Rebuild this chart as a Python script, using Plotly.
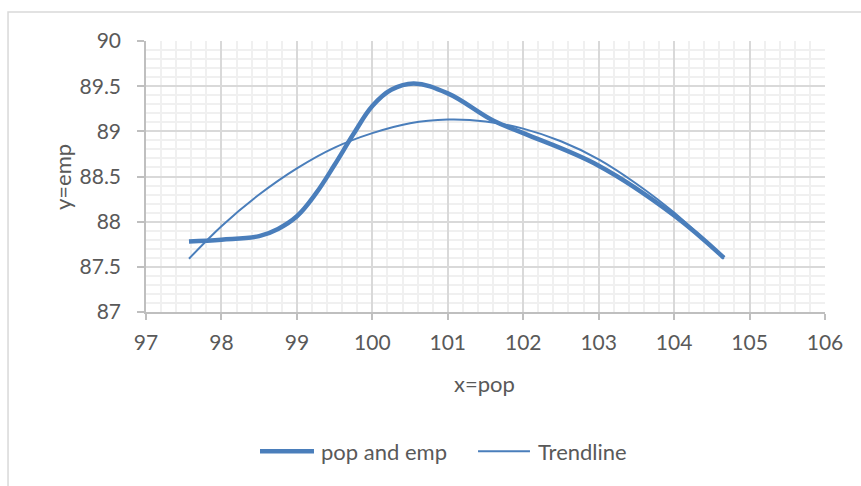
import plotly.graph_objects as go

# main series (pop vs emp)
pop = [97.57, 98.0, 98.5, 98.75, 99.0, 99.25, 99.5, 99.75, 100.0, 100.25, 100.55, 101.0, 101.6, 102.0, 103.0, 104.0, 104.66]
emp = [87.78, 87.80, 87.84, 87.92, 88.06, 88.31, 88.63, 88.97, 89.28, 89.46, 89.53, 89.42, 89.12, 88.98, 88.62, 88.07, 87.60]

# trendline
trend_x = [97.57, 98.0, 98.5, 99.0, 99.5, 100.0, 100.5, 101.0, 101.5, 102.0, 102.5, 103.0, 103.5, 104.0, 104.66]
trend_y = [87.59, 87.95, 88.30, 88.59, 88.82, 88.98, 89.09, 89.13, 89.11, 89.03, 88.89, 88.69, 88.42, 88.10, 87.59]

x_ticks = [97, 98, 99, 100, 101, 102, 103, 104, 105, 106]
y_ticks = [87, 87.5, 88, 88.5, 89, 89.5, 90]
series_names = ["pop and emp", "Trendline"]

BLUE = "#4a7ebb"
TXT = "#595959"
FONT = "Lato"
WIDTHS = [4.5, 2]

fig = go.Figure()
fig.add_trace(go.Scatter(x=pop, y=emp, mode="lines", name=series_names[0], showlegend=False,
                         line=dict(color=BLUE, width=WIDTHS[0], shape="spline", smoothing=1.1)))
fig.add_trace(go.Scatter(x=trend_x, y=trend_y, mode="lines", name=series_names[1], showlegend=False,
                         line=dict(color=BLUE, width=WIDTHS[1], shape="spline", smoothing=1.0)))

# legend drawn manually (Excel-style wide samples), in paper coordinates
LEG_Y = -0.514
leg_items = [(0.1679, 0.2474, 0.2548), (0.4890, 0.5655, 0.5744)]
shapes = [
    dict(type="rect", xref="paper", yref="paper", x0=-0.2032, x1=1.3, y0=-1.2, y1=1.107,
         line=dict(color="#d9d9d9", width=1.5), fillcolor="rgba(0,0,0,0)", layer="below"),
]
annotations = [
    dict(text="y=emp", xref="paper", yref="paper", x=-0.1237, y=0.498, textangle=-90,
         showarrow=False, xanchor="center", yanchor="middle", font=dict(size=22, color=TXT)),
    dict(text="x=pop", xref="paper", yref="paper", x=0.499, y=-0.262,
         showarrow=False, xanchor="center", yanchor="middle", font=dict(size=22, color=TXT)),
]
for (x0, x1, xt), name, w in zip(leg_items, series_names, WIDTHS):
    shapes.append(dict(type="line", xref="paper", yref="paper", x0=x0, x1=x1, y0=LEG_Y, y1=LEG_Y,
                       line=dict(color=BLUE, width=w)))
    annotations.append(dict(text=name, xref="paper", yref="paper", x=xt, y=LEG_Y, showarrow=False,
                            xanchor="left", yanchor="middle", font=dict(size=22, color=TXT)))

fig.update_layout(
    width=861, height=486,
    margin=dict(l=146, r=36, t=41, b=174),
    paper_bgcolor="white", plot_bgcolor="white",
    font=dict(family=FONT, size=21, color=TXT),
    showlegend=False,
    xaxis=dict(range=[97, 106], tickvals=x_ticks, ticktext=[str(v) for v in x_ticks],
               showgrid=True, gridcolor="#d9d9d9", gridwidth=1.5,
               minor=dict(dtick=0.2, tick0=97, showgrid=True, gridcolor="#f0f0f0", gridwidth=1.5),
               showline=True, linecolor="#bfbfbf", linewidth=1.5,
               ticks="outside", ticklen=6, tickcolor="#bfbfbf", tickwidth=1.5,
               zeroline=False, tickfont=dict(size=21, color=TXT), ticklabelstandoff=5),
    yaxis=dict(range=[87, 90], tickvals=y_ticks, ticktext=["87", "87.5", "88", "88.5", "89", "89.5", "90"],
               showgrid=True, gridcolor="#d9d9d9", gridwidth=1.5,
               minor=dict(dtick=0.1, tick0=87, showgrid=True, gridcolor="#f0f0f0", gridwidth=1.5),
               showline=True, linecolor="#bfbfbf", linewidth=1.5,
               ticks="outside", ticklen=7, tickcolor="#bfbfbf", tickwidth=1.5,
               zeroline=False, tickfont=dict(size=21, color=TXT), ticklabelstandoff=12),
    annotations=annotations,
    shapes=shapes,
)

fig.write_html("out.html")
